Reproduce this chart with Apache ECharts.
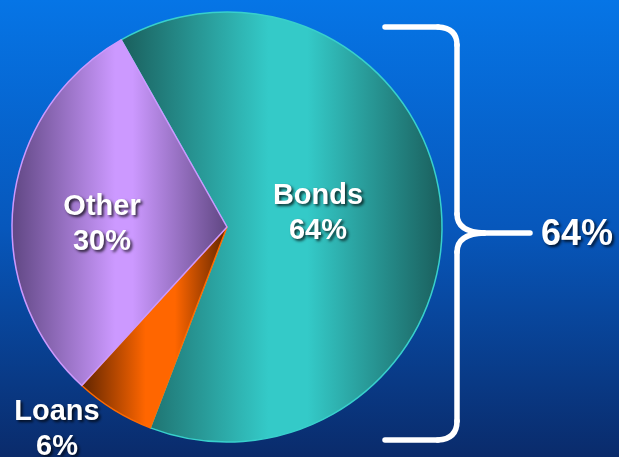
<!DOCTYPE html>
<html>
<head>
<meta charset="utf-8">
<script src="https://cdn.jsdelivr.net/npm/echarts@6/dist/echarts.min.js"></script>
<style>
html,body{margin:0;padding:0;width:619px;height:457px;overflow:hidden;}
#c{width:619px;height:457px;}
</style>
</head>
<body>
<div id="c"></div>
<script>
// ---- data ----
var categories = ['Bonds', 'Loans', 'Other'];
var shares = [64, 6, 30];
var bracketLabel = '64%';

// ---- styling (not data) ----
var palette = [
  {dark: '#1a5e5c', light: '#34cac8', border: '#38d0cc'},
  {dark: '#5e2400', light: '#ff6600', border: '#ff6a00'},
  {dark: '#5f4682', light: '#cc99ff', border: '#cc99ff'}
];
var gradStops = [
  [{offset:0,k:'dark'},{offset:0.46,k:'light'},{offset:0.58,k:'light'},{offset:1,k:'dark'}],
  [{offset:0,k:'dark'},{offset:0.44,k:'light'},{offset:0.64,k:'light'},{offset:1,k:'dark'}],
  [{offset:0,k:'dark'},{offset:0.48,k:'light'},{offset:0.56,k:'light'},{offset:1,k:'dark'}]
];
var labelPos = [[318, 213], [57, 429], [102, 224]];

function hGrad(stops) {
  return {type: 'linear', x: 0, y: 0, x2: 1, y2: 0, colorStops: stops, global: false};
}

var chart = echarts.init(document.getElementById('c'), null, {renderer: 'canvas'});

var pieData = categories.map(function (name, i) {
  var p = palette[i];
  return {
    name: name,
    value: shares[i],
    itemStyle: {
      color: hGrad(gradStops[i].map(function (s) { return {offset: s.offset, color: p[s.k]}; })),
      borderColor: p.border,
      borderWidth: 1.5
    }
  };
});

var FONT = '"Liberation Sans", Arial, sans-serif';

var bracketStyle = {stroke: '#ffffff', lineWidth: 5.5, lineCap: 'round', fill: null};
function seg(x1, y1, x2, y2) {
  return {type: 'line', silent: true, shape: {x1: x1, y1: y1, x2: x2, y2: y2}, style: bracketStyle};
}
function curve(x1, y1, cx, cy, x2, y2) {
  return {type: 'bezierCurve', silent: true,
    shape: {x1: x1, y1: y1, cpx1: cx, cpy1: cy, x2: x2, y2: y2}, style: bracketStyle};
}

var option = {
  animation: false,
  backgroundColor: {type: 'linear', x: 0, y: 0, x2: 0, y2: 1, colorStops: [
    {offset: 0, color: '#0675e6'},
    {offset: 0.5, color: '#0757bb'},
    {offset: 1, color: '#0a2b6b'}
  ]},
  series: [{
    type: 'pie',
    center: [227, 227],
    radius: 215,
    startAngle: 119.5,
    clockwise: true,
    avoidLabelOverlap: false,
    silent: true,
    label: {
      show: true,
      position: 'inside',
      fontSize: 29,
      lineHeight: 35,
      color: '#ffffff',
      fontFamily: FONT,
      fontWeight: 'bold',
      textShadowColor: 'rgba(0,0,0,0.75)',
      textShadowOffsetX: 2,
      textShadowOffsetY: 2,
      textShadowBlur: 3,
      formatter: function (p) { return p.name + '\n' + p.value + '%'; }
    },
    labelLine: {show: false},
    labelLayout: function (params) {
      var pos = labelPos[params.dataIndex];
      return {x: pos[0], y: pos[1], align: 'center', verticalAlign: 'middle'};
    },
    emphasis: {disabled: true},
    data: pieData
  }],
  graphic: [
    seg(385, 27, 438, 27),
    curve(438, 27, 457, 28, 457, 45),
    seg(457, 45, 457, 214),
    curve(457, 214, 457, 232, 484, 233),
    seg(484, 233, 530, 233),
    curve(484, 233, 457, 234, 457, 252),
    seg(457, 252, 457, 421),
    curve(457, 421, 457, 439, 438, 440),
    seg(438, 440, 385, 440),
    {
      type: 'text',
      silent: true,
      x: 577,
      y: 235,
      style: {
        text: bracketLabel,
        fontSize: 36,
        fontFamily: FONT,
        fontWeight: 'bold',
        align: 'center',
        verticalAlign: 'middle',
        fill: '#ffffff',
        textShadowColor: 'rgba(0,0,0,0.75)',
        textShadowOffsetX: 2,
        textShadowOffsetY: 2,
        textShadowBlur: 3
      }
    }
  ]
};
chart.setOption(option);
</script>
</body>
</html>
